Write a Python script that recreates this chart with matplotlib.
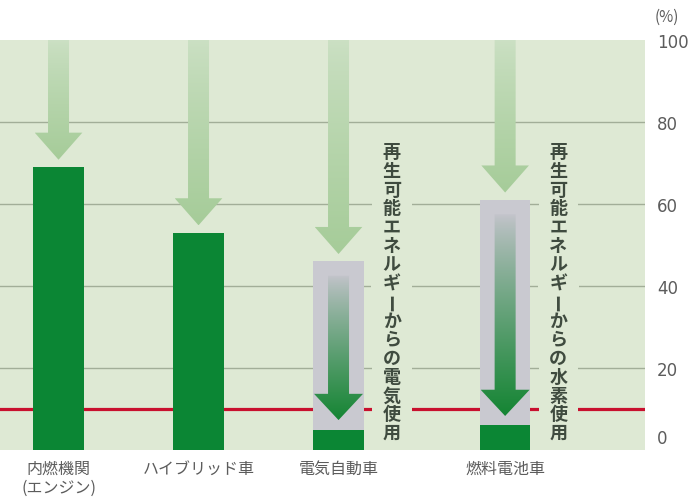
import numpy as np
import matplotlib
matplotlib.use("Agg")
import matplotlib.pyplot as plt
from matplotlib.patches import PathPatch
from matplotlib.path import Path
from matplotlib.transforms import ScaledTranslation

plt.rcParams['font.family'] = ['Noto Sans CJK JP', 'DejaVu Sans']

# ---- data -------------------------------------------------------------
categories = ['内燃機関\n(エンジン)', 'ハイブリッド車', '電気自動車', '燃料電池車']
x_pos = [0.0, 1.0, 2.0, 3.19]
efficiency = [69, 53, 5, 6]                 # %
renewable_share = [None, None, 46, 61]      # % (grey column top)
renewable_text = [None, None,
                  '再生可能エネルギーからの電気使用',
                  '再生可能エネルギーからの水素使用']
reference_line = 10
y_ticks = [0, 20, 40, 60, 80, 100]
y_tick_labels = ['0', '20', '40', '60', '80', '100']
unit_label = '(%)'

# ---- style -------------------------------------------------------------
BG = '#dee9d4'
GRID = '#a2ae98'
BAR = '#0b8634'
GREY_BOX = '#c9c9d0'
RED = '#c8102e'
TEXT_DARK = '#3f4b3f'
TEXT_GREY = '#5c5c5c'
BAR_W = 0.36

fig = plt.figure(figsize=(6.95, 5.02), dpi=100)
ax = fig.add_axes([0, 51 / 502, 645 / 695, 410 / 502])
ax.set_facecolor(BG)
for s in ax.spines.values():
    s.set_visible(False)


def gradient_arrow(ax, x, y_top, y_tip, shaft_w, head_w, head_len,
                   c_top, c_bot, z, gamma=1.0):
    """Downward arrow filled with a vertical colour gradient."""
    yb = y_tip + head_len
    verts = [(x - shaft_w / 2, y_top), (x + shaft_w / 2, y_top),
             (x + shaft_w / 2, yb), (x + head_w / 2, yb), (x, y_tip),
             (x - head_w / 2, yb), (x - shaft_w / 2, yb),
             (x - shaft_w / 2, y_top)]
    codes = [Path.MOVETO] + [Path.LINETO] * 6 + [Path.CLOSEPOLY]
    patch = PathPatch(Path(verts, codes), fc='none', ec='none', zorder=z)
    ax.add_patch(patch)
    t = np.linspace(0, 1, 256) ** gamma
    c_top = np.array(c_top)
    c_bot = np.array(c_bot)
    img = c_top[None, :] * (1 - t[:, None]) + c_bot[None, :] * t[:, None]
    im = ax.imshow(img[:, None, :], extent=[x - head_w / 2, x + head_w / 2, y_tip, y_top],
                   origin='upper', aspect='auto', zorder=z, interpolation='bilinear')
    im.set_clip_path(patch)


# grid lines and reference line
for v in y_ticks[1:-1]:
    ax.axhline(v, color=GRID, lw=1.0, zorder=1)
ax.axhline(reference_line, color=RED, lw=2.3, zorder=2)

# light arrows from the top of the panel
for x, eff, ren in zip(x_pos, efficiency, renewable_share):
    target = ren if ren is not None else eff
    gradient_arrow(ax, x, 100, target + 1.8, 0.15, 0.34, 6.6,
                   (0.80, 0.88, 0.77), (0.65, 0.80, 0.60), z=3, gamma=0.8)

# grey columns with dark arrows for the renewable pathways
for x, eff, ren in zip(x_pos, efficiency, renewable_share):
    if ren is None:
        continue
    ax.bar(x, ren, width=BAR_W, color=GREY_BOX, zorder=4)
    gradient_arrow(ax, x, ren - 3.5, eff + 2.3, 0.15, 0.35, 6.4,
                   (0.77, 0.77, 0.80), (0.08, 0.52, 0.20), z=5, gamma=0.85)

# efficiency bars
ax.bar(x_pos, efficiency, width=BAR_W, color=BAR, zorder=6)

# vertical captions: a background strip first, then the glyphs on top
step = 4.57
for x, txt in zip(x_pos, renewable_text):
    if txt is None:
        continue
    for i, ch in enumerate(txt):
        common = dict(rotation=90 if ch == 'ー' else 0, ha='center', va='center',
                      fontsize=13, fontweight='bold', clip_on=True)
        ax.text(x + 0.38, 72.8 - i * step, ch, color=(0, 0, 0, 0), zorder=7,
                bbox=dict(boxstyle='square,pad=0.6', fc=BG, ec='none'), **common)
        ax.text(x + 0.38, 72.8 - i * step, ch, color=TEXT_DARK, zorder=8, **common)

ax.set_xlim(-0.418, 4.189)
ax.set_ylim(0, 100)

# category labels
ax.set_xticks(x_pos, categories)
ax.tick_params(axis='x', length=0, pad=7, labelsize=11.5, labelcolor=TEXT_GREY)

# right-hand value axis
ax.yaxis.tick_right()
ax.set_yticks(y_ticks, y_tick_labels)
ax.tick_params(axis='y', length=0, pad=8.6, labelsize=12, labelcolor=TEXT_GREY)
for lbl in ax.get_yticklabels():
    lbl.set_fontfamily('DejaVu Sans')
tick0 = ax.yaxis.get_major_ticks()[0]
tick0.label2.set_transform(tick0.label2.get_transform()
                           + ScaledTranslation(0, 14 / 100, fig.dpi_scale_trans))

ax.annotate(unit_label, xy=(1, 1), xycoords='axes fraction', xytext=(10, 24),
            textcoords='offset pixels', ha='left', va='center',
            fontsize=11, color=TEXT_GREY)

fig.savefig('out.png', dpi=100, facecolor='white')
